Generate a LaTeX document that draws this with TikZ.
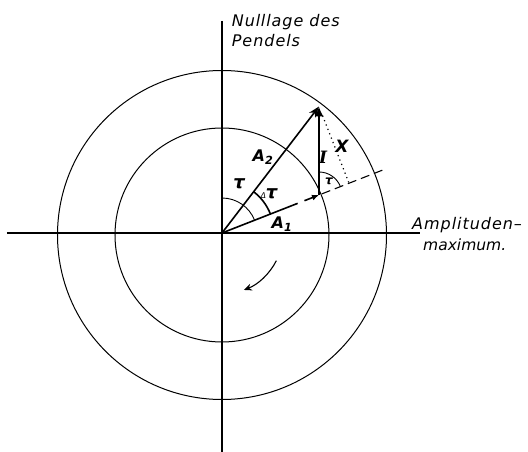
\documentclass[tikz,border=0pt]{standalone}
\usepackage{fontspec}
\newfontfamily\lab{DejaVu Sans}[ItalicFont=DejaVu Sans Oblique, BoldItalicFont=DejaVu Sans Bold Oblique]
\newfontfamily\serlab{DejaVu Serif}[ItalicFont=DejaVu Serif Italic, BoldItalicFont=DejaVu Serif Bold Italic]
\usetikzlibrary{arrows.meta,calc}
\begin{document}
\begin{tikzpicture}[x=1pt,y=1pt,
  axis/.style={line width=1.2pt},
  circ/.style={line width=1pt},
  vec/.style={line width=1.6pt},
  txt/.style={inner sep=0pt,anchor=base west,font=\lab\itshape\fontsize{16}{19}\selectfont\addfontfeature{LetterSpace=6}},
  lbl/.style={inner sep=0pt,font=\lab\itshape\fontsize{15}{17}\selectfont}]
\useasboundingbox (-222,-219) rectangle (306,233);
\coordinate (O) at (0,0);
\coordinate (E) at (97,38);
\coordinate (T) at (97,126.5);
\coordinate (F) at ($(O)!(T)!(E)$);
\coordinate (D) at ($(O)!1.68!(E)$);
\coordinate (L) at (-215,0);
\coordinate (R) at (198,0);
\coordinate (U) at (0,212);
\coordinate (B) at (0,-219);
\coordinate (C) at (0,-2);
% axes
\draw[axis] (L) -- (R);
\draw[axis] (U) -- (B);
% circles
\draw[circ] (C) circle[radius=164.5];
\draw[circ] (C) circle[radius=107];
% A2
\draw[vec,-{Stealth[length=11pt,width=8pt]}] (O) -- (T);
% I
\draw[line width=2.7pt,-{Latex[length=10pt,width=9pt]}] (E) -- (T);
% A1
\draw[vec] (O) -- ($(O)!0.78!(E)$);
\draw[vec,-{Latex[length=7pt,width=6pt]}] ($(O)!0.85!(E)$) -- (E);
% dashed extension
\draw[line width=1.1pt,dash pattern=on 9pt off 5pt,dash phase=-3pt] (E) -- (D);
% dotted perpendicular
\draw[line width=1.2pt,dash pattern=on 1.2pt off 3.5pt] ($(T)!0.12!(F)$) -- (F);
% angle arcs
\draw[line width=0.9pt] (O) ++(90:35) arc[start angle=90,end angle=21.4,radius=35];
\draw[line width=1.6pt] (O) ++(52.5:52) arc[start angle=52.5,end angle=21.4,radius=52];
\draw[line width=0.9pt] (E) ++(90:23) arc[start angle=90,end angle=21.4,radius=23];
% rotation sense
\draw[line width=1.1pt,-{Stealth[length=8pt,width=7pt]}] (O) ++(-27:61) arc[start angle=-27,end angle=-69,radius=61];
% labels
\node[lbl,font=\lab\bfseries\itshape\fontsize{18}{20}\selectfont] (tauA) at (17,49) {τ};
\node[lbl,font=\lab\bfseries\itshape\fontsize{18}{20}\selectfont] (dtau) at (47,39) {{\mdseries\fontsize{8}{8}\selectfont Δ}τ};
\node[lbl,font=\lab\bfseries\itshape\fontsize{16}{18}\selectfont] (aone) at (60,9) {A\textsubscript{1}};
\node[lbl,font=\lab\bfseries\itshape\fontsize{16}{18}\selectfont] (atwo) at (41,76) {A\textsubscript{2}};
\node[inner sep=0pt,font=\serlab\bfseries\itshape\fontsize{17}{19}\selectfont] (imp) at (101,76) {I};
\node[lbl,font=\lab\bfseries\itshape\fontsize{17}{19}\selectfont] (xx) at (120,87) {X};
\node[lbl,font=\lab\bfseries\itshape\fontsize{12}{14}\selectfont] (tauB) at (107,52) {τ};
% texts
\node[txt] (null1) at (9.7,206.3) {Nul\kern0.5pt l\kern1pt lage des};
\node[txt] (null2) at (9.7,186.3) {Pendels};
\node[txt] (amp1) at (190,3) {Amplituden–};
\node[txt,font=\lab\itshape\fontsize{15.5}{19}\selectfont] (amp2) at (201,-18) {maximum.};
\end{tikzpicture}
\end{document}
